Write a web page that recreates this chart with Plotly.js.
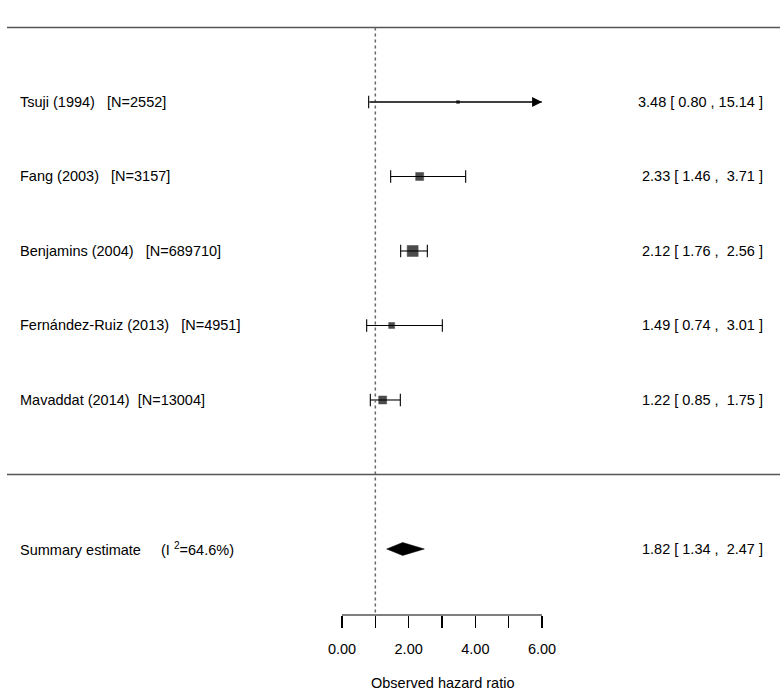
<!DOCTYPE html>
<html>
<head>
<meta charset="utf-8">
<script src="https://cdn.plot.ly/plotly-3.0.1.min.js"></script>
<style>
  body { margin: 0; background: #fff; }
  #forest { width: 780px; height: 694px; }
</style>
</head>
<body>
<div id="forest"></div>
<script>
// study data
const studies = ['Tsuji (1994)', 'Fang (2003)', 'Benjamins (2004)', 'Fernández-Ruiz (2013)', 'Mavaddat (2014)'];
const sampleN = [2552, 3157, 689710, 4951, 13004];
const gaps = [3, 3, 3, 3, 2];
const hr = [3.48, 2.33, 2.12, 1.49, 1.22];
const ciLow = [0.80, 1.46, 1.76, 0.74, 0.85];
const ciHigh = [15.14, 3.71, 2.56, 3.01, 1.75];
const boxSize = [3, 8, 11, 6, 8];
const rows = [5, 4, 3, 2, 1];

// summary
const sumLabel = 'Summary estimate';
const i2 = 64.6;
const sumEst = 1.82, sumLow = 1.34, sumHigh = 2.47;
const sumRow = -1;

// axis
const xTicks = [0, 2, 4, 6];
const xTickText = ['0.00', '2.00', '4.00', '6.00'];
const xMinorTicks = [1, 3, 5];
const xTitle = 'Observed hazard ratio';
const xMax = 6;

const nb = '\u00a0';
const fnt = 'Liberation Sans, Arial, sans-serif';
const xRange = [-10.26, 13.14];
const yRange = [-1.886, 6.369];

function padHi(v) {
    return (v < 10 ? nb : '') + v.toFixed(2);
}
function ciText(est, lo, hi) {
    return est.toFixed(2) + ' [ ' + lo.toFixed(2) + ' , ' + padHi(hi) + ' ]';
}

// CI lines (clipped to axis limit) and caps
const lineX = [], lineY = [], capX = [], capY = [];
rows.forEach((r, i) => {
    lineX.push(ciLow[i], Math.min(ciHigh[i], xMax), null);
    lineY.push(r, r, null);
    capX.push(ciLow[i]); capY.push(r);
    if (ciHigh[i] <= xMax) { capX.push(ciHigh[i]); capY.push(r); }
});

const traces = [
    {
        x: lineX, y: lineY, type: 'scatter', mode: 'lines',
        line: { color: '#000', width: 1.1 }, hoverinfo: 'skip'
    },
    {
        x: capX, y: capY, type: 'scatter', mode: 'markers',
        marker: { symbol: 'line-ns', size: 9, line: { color: '#000', width: 1.1 } },
        hoverinfo: 'skip'
    },
    {
        x: hr, y: rows, type: 'scatter', mode: 'markers',
        marker: { symbol: 'square', size: boxSize, color: '#000', line: { color: '#000', width: 0.5 } }
    },
    {
        x: [sumLow, sumEst, sumHigh, sumEst, sumLow],
        y: [sumRow, sumRow + 0.087, sumRow, sumRow - 0.087, sumRow],
        type: 'scatter', mode: 'lines', fill: 'toself',
        fillcolor: '#000', line: { color: '#000', width: 0.5 }, hoverinfo: 'skip'
    }
];

const annotations = [];
rows.forEach((r, i) => {
    annotations.push({
        xref: 'paper', x: 18 / 780, xanchor: 'left', y: r, yref: 'y',
        text: studies[i] + nb.repeat(gaps[i]) + '[N=' + sampleN[i] + ']',
        showarrow: false
    });
    annotations.push({
        xref: 'paper', x: 765 / 780, xanchor: 'right', y: r, yref: 'y',
        text: ciText(hr[i], ciLow[i], ciHigh[i]),
        showarrow: false
    });
    if (ciHigh[i] > xMax) {
        annotations.push({
            x: xMax, y: r, ax: ciLow[i], ay: r, axref: 'x', ayref: 'y',
            text: '', showarrow: true, arrowhead: 2, arrowsize: 1.8,
            arrowwidth: 1.1, arrowcolor: '#000', standoff: 0
        });
    }
});
annotations.push({
    xref: 'paper', x: 18 / 780, xanchor: 'left', y: sumRow, yref: 'y',
    text: sumLabel + nb.repeat(5) + '(I <sup>2</sup>=' + i2.toFixed(1) + '%)',
    showarrow: false
});
annotations.push({
    xref: 'paper', x: 765 / 780, xanchor: 'right', y: sumRow, yref: 'y',
    text: ciText(sumEst, sumLow, sumHigh),
    showarrow: false
});
annotations.push({
    xref: 'x', x: xMax / 2, yref: 'paper', y: -0.111, yanchor: 'middle',
    text: xTitle, showarrow: false
});

const layout = {
    width: 780, height: 694,
    margin: { l: 0, r: 0, t: 0, b: 79 },
    paper_bgcolor: '#fff', plot_bgcolor: '#fff',
    font: { family: fnt, size: 14.5, color: '#000' },
    showlegend: false,
    xaxis: {
        range: xRange, showgrid: false, zeroline: false, showline: false,
        tickvals: xTicks, ticktext: xTickText, ticks: 'outside',
        ticklen: 12, tickwidth: 1.1, tickcolor: '#000', ticklabelstandoff: 9,
        tickfont: { family: fnt, size: 14.5 },
        minor: { tickvals: xMinorTicks, ticks: 'outside', ticklen: 12, tickwidth: 1.1, tickcolor: '#000', showgrid: false },
        fixedrange: true
    },
    yaxis: {
        range: yRange, visible: false, fixedrange: true
    },
    shapes: [
        { type: 'line', xref: 'paper', x0: 7 / 780, x1: 1, yref: 'y', y0: 6, y1: 6,
          line: { color: '#555', width: 1.6 } },
        { type: 'line', xref: 'paper', x0: 7 / 780, x1: 1, yref: 'y', y0: 0, y1: 0,
          line: { color: '#555', width: 1.6 } },
        { type: 'line', xref: 'x', x0: 1, x1: 1, yref: 'y', y0: 6, y1: yRange[0],
          line: { color: '#666', width: 1.5, dash: 'dot' } },
        { type: 'line', xref: 'x', x0: 0, x1: xMax, yref: 'paper', y0: 0, y1: 0,
          line: { color: '#000', width: 1.1 } }
    ],
    annotations: annotations
};

Plotly.newPlot('forest', traces, layout, { displayModeBar: false, staticPlot: true });
</script>
</body>
</html>
